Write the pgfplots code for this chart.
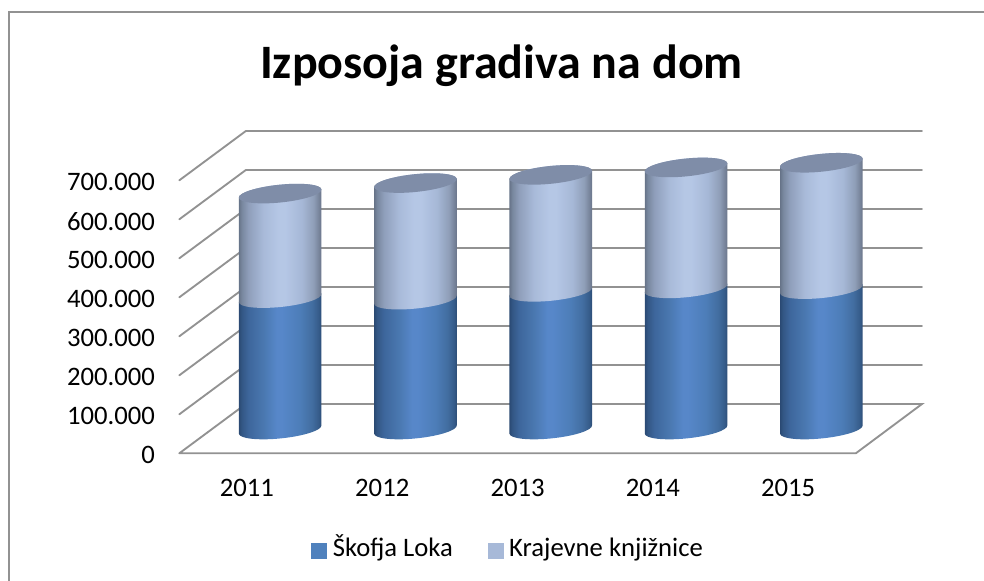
\documentclass[border=0pt]{standalone}
\usepackage{pgfplots}
\usepackage{pgfplotstable}
\usepackage{fontspec}
\setmainfont{Carlito}
\pgfplotsset{compat=1.18}
\definecolor{gridgray}{HTML}{929292}
\definecolor{legblue}{HTML}{4F81BD}
\definecolor{legpale}{HTML}{A7B9D8}
\definecolor{topcol}{HTML}{7F8DA8}
\pgfdeclarehorizontalshading{cylblue}{100bp}{
 rgb(0bp)=(0.16,0.28,0.44);
 rgb(25bp)=(0.16,0.28,0.44);
 rgb(27bp)=(0.20,0.34,0.52);
 rgb(31bp)=(0.24,0.40,0.61);
 rgb(40bp)=(0.29,0.47,0.69);
 rgb(48bp)=(0.34,0.53,0.79);
 rgb(51bp)=(0.34,0.53,0.79);
 rgb(62bp)=(0.30,0.49,0.72);
 rgb(69bp)=(0.26,0.43,0.63);
 rgb(73bp)=(0.21,0.36,0.54);
 rgb(75bp)=(0.17,0.29,0.45);
 rgb(100bp)=(0.17,0.29,0.45)}
\pgfdeclarehorizontalshading{cylpale}{100bp}{
 rgb(0bp)=(0.39,0.44,0.52);
 rgb(25bp)=(0.39,0.44,0.52);
 rgb(27bp)=(0.47,0.53,0.62);
 rgb(31bp)=(0.56,0.62,0.73);
 rgb(40bp)=(0.66,0.73,0.85);
 rgb(49bp)=(0.71,0.78,0.90);
 rgb(53bp)=(0.71,0.78,0.90);
 rgb(63bp)=(0.65,0.72,0.84);
 rgb(70bp)=(0.56,0.62,0.72);
 rgb(73bp)=(0.47,0.52,0.61);
 rgb(75bp)=(0.41,0.45,0.53);
 rgb(100bp)=(0.41,0.45,0.53)}
\newcommand\cylbody[1]{%
 \begingroup\pgfkeys{/pgf/fpu=true,/pgf/fpu/output format=fixed}\pgfmathparse{\vv*0.00039}\xdef\hh{\pgfmathresult}\endgroup
 \pgftransformshift{\pgfpoint{24.9pt}{17.85pt}}%
 \path[x=.75pt,y=.75pt,draw=none,shading=#1]
  (-41.3,-4.2-\hh) .. controls (-40.8,-9.09-\hh) and (-21.9,-11.17-\hh) .. (0.9,-8.85-\hh)
  .. controls (23.7,-6.53-\hh) and (41.8,-0.69-\hh) .. (41.3,4.2-\hh) -- (41.3,4.2)
  .. controls (40.8,9.09) and (21.9,11.17) .. (-0.9,8.85)
  .. controls (-23.7,6.53) and (-41.8,0.69) .. (-41.3,-4.2) -- cycle;}
\pgfdeclareplotmark{cylblue}{\cylbody{cylblue}}
\pgfdeclareplotmark{cylpale}{\cylbody{cylpale}%
 \path[x=.75pt,y=.75pt,draw=none,fill=topcol]
  (-41.3,-4.2) .. controls (-40.8,-9.09) and (-21.9,-11.17) .. (0.9,-8.85)
  .. controls (23.7,-6.53) and (41.8,-0.69) .. (41.3,4.2)
  .. controls (40.8,9.09) and (21.9,11.17) .. (-0.9,8.85)
  .. controls (-23.7,6.53) and (-41.8,0.69) .. (-41.3,-4.2) -- cycle;}
\pgfplotstableread{
i v
0 337000
1 333000
2 353000
3 362000
4 360000
}\tblA
\pgfplotstableread{
i v
0 268000
1 299000
2 300000
3 310000
4 324000
}\tblB
\begin{document}
\begin{tikzpicture}
\path[use as bounding box] (0pt,0pt) rectangle (738pt,-435.75pt);
\draw[gridgray,line width=1.5pt] (6.75pt,-435.75pt) -- (6.75pt,-9pt) -- (738pt,-9pt);
\begin{axis}[
  at={(134.475pt,-339.975pt)},anchor=south west,
  scale only axis,width=557pt,height=241.7pt,
  xmin=-0.5,xmax=4.989,ymin=0,ymax=826410,
  clip=false,
  axis line style={draw=none},
  tick style={draw=none},
  xtick={0,1,2,3,4},xticklabels={2011,2012,2013,2014,2015},
  ytick={0,100000,200000,300000,400000,500000,600000,700000},
  yticklabels={0,100.000,200.000,300.000,400.000,500.000,600.000,700.000},
  scaled y ticks=false,
  tick label style={font=\fontsize{20}{24}\selectfont,text=black},
  yticklabel style={anchor=east,xshift=-14.7pt,yshift=-1.5pt},
  xticklabel style={anchor=base,yshift=-32.6pt},
  title={\fontsize{36}{44}\selectfont\bfseries Izposoja gradiva na dom},
  title style={at={(0.4338,1.137)},anchor=base,inner sep=0pt},
  legend style={at={(0.1773,-0.3010)},anchor=west,draw=none,fill=none,inner sep=0pt,
    font=\fontsize{20}{24}\selectfont,legend columns=2,
    nodes={text height=15pt,text depth=5pt},
    /tikz/every odd column/.append style={column sep=2.5pt},
    /tikz/every even column/.append style={column sep=24pt}},
  every axis plot/.append style={line cap=round},
]
\addplot[forget plot,gridgray,line width=1.4pt] coordinates {(-0.5,0)(4.5,0)(4.989,126410)(-0.0085,126410)(-0.5,0)};
\addplot[forget plot,gridgray,line width=1.4pt] coordinates {(-0.5,100000)(-0.0085,226410)(4.989,226410)};
\addplot[forget plot,gridgray,line width=1.4pt] coordinates {(-0.5,200000)(-0.0085,326410)(4.989,326410)};
\addplot[forget plot,gridgray,line width=1.4pt] coordinates {(-0.5,300000)(-0.0085,426410)(4.989,426410)};
\addplot[forget plot,gridgray,line width=1.4pt] coordinates {(-0.5,400000)(-0.0085,526410)(4.989,526410)};
\addplot[forget plot,gridgray,line width=1.4pt] coordinates {(-0.5,500000)(-0.0085,626410)(4.989,626410)};
\addplot[forget plot,gridgray,line width=1.4pt] coordinates {(-0.5,600000)(-0.0085,726410)(4.989,726410)};
\addplot[forget plot,gridgray,line width=1.4pt] coordinates {(-0.5,700000)(-0.0085,826410)(4.989,826410)};
\addplot[stack plots=y,only marks,scatter,mark=cylblue,
  scatter/@pre marker code/.code={},scatter/@post marker code/.code={},
  visualization depends on={rawy \as \vv},
  legend image code/.code={\fill[legblue] (0pt,-5.6pt) rectangle (11.25pt,5.6pt);}]
  table[x=i,y=v]{\tblA};
\addlegendentry{Škofja Loka}
\addplot[stack plots=y,only marks,scatter,mark=cylpale,
  scatter/@pre marker code/.code={},scatter/@post marker code/.code={},
  visualization depends on={rawy \as \vv},
  legend image code/.code={\fill[legpale] (0pt,-5.6pt) rectangle (11.25pt,5.6pt);}]
  table[x=i,y=v]{\tblB};
\addlegendentry{Krajevne knjižnice}
\end{axis}
\end{tikzpicture}
\end{document}
